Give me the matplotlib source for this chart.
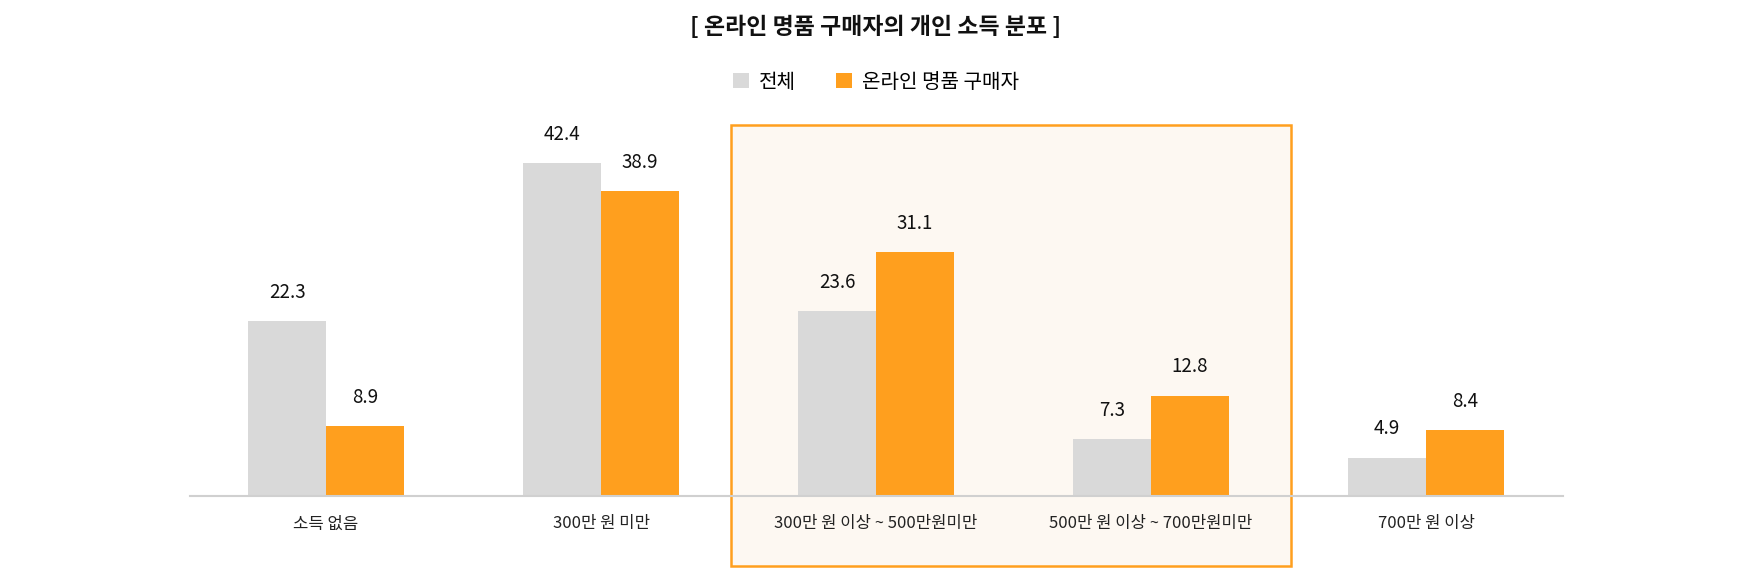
import numpy as np
import matplotlib
matplotlib.use("Agg")
import matplotlib.pyplot as plt
from matplotlib.patches import Rectangle
import matplotlib.transforms as mtransforms

plt.rcParams['font.family'] = ['Noto Sans CJK KR', 'DejaVu Sans']

categories = ['소득 없음', '300만 원 미만', '300만 원 이상 ~ 500만원미만',
              '500만 원 이상 ~ 700만원미만', '700만 원 이상']
total = [22.3, 42.4, 23.6, 7.3, 4.9]
online = [8.9, 38.9, 31.1, 12.8, 8.4]
series_names = ['전체', '온라인 명품 구매자']

gray = '#D9D9D9'
orange = '#FF9F1E'

W, H = 1752, 569
fig = plt.figure(figsize=(W / 100, H / 100), dpi=100)
fig.patch.set_facecolor('white')

# axes placed in pixel terms: baseline y=496, x from 192 to 1565
px_per_unit = 7.85
ymax = 50
ax_h = ymax * px_per_unit
ax = fig.add_axes([190 / W, (H - 496) / H, 1373 / W, ax_h / H])
ax.set_facecolor('none')

x = np.arange(len(categories))
bw = 0.284
ax.bar(x - bw / 2, total, width=bw, color=gray, label=series_names[0], zorder=3)
ax.bar(x + bw / 2, online, width=bw, color=orange, label=series_names[1], zorder=3)

for xi, v in zip(x, total):
    ax.text(xi - bw / 2, v + 2.3, f'{v}', ha='center', va='bottom', fontsize=13.5,
            fontweight='medium', color='#111111')
for xi, v in zip(x, online):
    ax.text(xi + bw / 2, v + 2.3, f'{v}', ha='center', va='bottom', fontsize=13.5,
            fontweight='medium', color='#111111')

ax.set_xlim(-0.495, 4.498)
ax.set_ylim(0, ymax)
ax.set_yticks([])
ax.set_xticks(x)
ax.set_xticklabels(categories, fontsize=12, fontweight='medium', color='#222222')
ax.tick_params(axis='x', length=0, pad=14)
for s in ['top', 'right', 'left']:
    ax.spines[s].set_visible(False)
ax.spines['bottom'].set_color('#D0D0D0')
ax.spines['bottom'].set_linewidth(1.5)
ax.spines['bottom'].set_zorder(4)

# highlight box behind the middle groups
trans = mtransforms.blended_transform_factory(ax.transData, ax.transAxes)
box_bottom = (496 - 566) / ax_h
box_top = (496 - 125) / ax_h
rect = Rectangle((1.473, box_bottom), 3.509 - 1.473, box_top - box_bottom,
                 transform=trans, facecolor='#FDF8F2', edgecolor=orange,
                 linewidth=1.8, clip_on=False, zorder=0)
ax.add_patch(rect)

fig.text(0.5, 1 - 27 / H, '[ 온라인 명품 구매자의 개인 소득 분포 ]', ha='center', va='center',
         fontsize=16.5, fontweight='black', color='#111111')

leg = fig.legend(loc='center', bbox_to_anchor=(0.5, 1 - 82 / H), ncol=2, frameon=False,
                 fontsize=14.5, handlelength=0.8, handleheight=0.8, handletextpad=0.5,
                 columnspacing=2.0)
for t in leg.get_texts():
    t.set_fontweight('medium')

fig.savefig('out.png', dpi=100, facecolor='white')
